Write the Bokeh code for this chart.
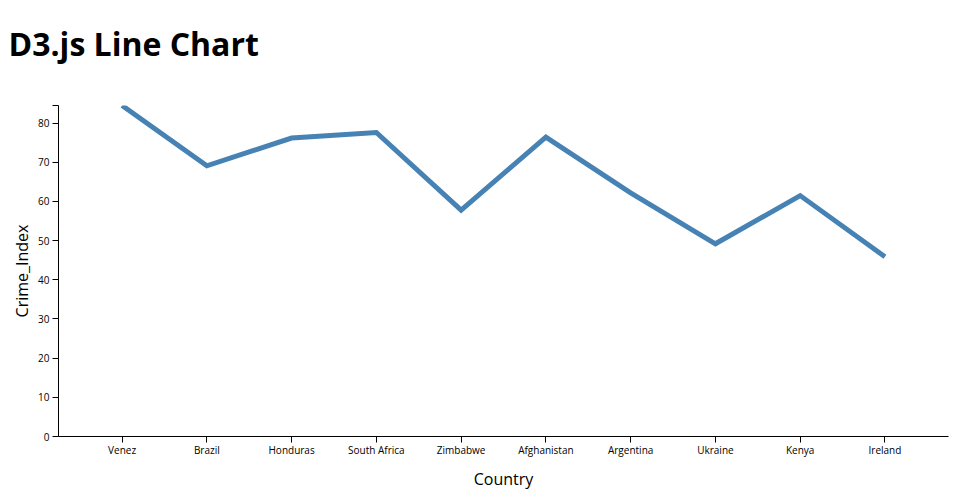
from bokeh.plotting import figure
from bokeh.models import FactorRange, Range1d, FixedTicker, Title
from bokeh.embed import file_html
from bokeh.resources import INLINE

countries = ["Venez", "Brazil", "Honduras", "South Africa", "Zimbabwe",
             "Afghanistan", "Argentina", "Ukraine", "Kenya", "Ireland"]
crime_index = [84.5, 69.1, 76.2, 77.6, 57.8, 76.4, 62.2, 49.2, 61.5, 45.9]
y_ticks = [0, 10, 20, 30, 40, 50, 60, 70, 80]
title_text = "D3.js Line Chart"

ymax = max(crime_index)

W, H = 952, 492
LEFT, RIGHT, TOP, BOTTOM = 58, 4, 105, 56

p = figure(width=W, height=H, output_backend="svg", toolbar_location=None,
           title=None,
           x_range=FactorRange(factors=countries, range_padding=0.25,
                               range_padding_units="absolute"),
           y_range=Range1d(0, ymax),
           min_border_left=LEFT, min_border_right=RIGHT, min_border_top=TOP,
           min_border_bottom=BOTTOM)

p.line(x=countries, y=crime_index, line_width=5, line_color="#4682b4",
       line_join="miter")

# spacer between the frame and the title (closest to the frame)
spacer = Title(text=" ", text_font_size="1px", standoff=33)
p.add_layout(spacer, "above")

main_title = Title(text=title_text, text_font="Open Sans", text_font_size="32px",
                   text_font_style="bold", text_color="black", align="left",
                   vertical_align="bottom", offset=-50, standoff=10)
p.add_layout(main_title, "above")

p.xgrid.visible = False
p.ygrid.visible = False
p.outline_line_color = None

p.yaxis.ticker = FixedTicker(ticks=y_ticks + [ymax])
p.yaxis.major_label_overrides = {ymax: ""}

for ax in (p.xaxis[0], p.yaxis[0]):
    ax.axis_line_color = "black"
    ax.axis_line_width = 1
    ax.major_tick_line_color = "black"
    ax.major_tick_out = 6
    ax.major_tick_in = 0
    ax.minor_tick_line_color = None
    ax.major_label_text_font = "Open Sans"
    ax.major_label_text_font_size = "10px"
    ax.major_label_text_color = "black"
    ax.axis_label_text_font = "Open Sans"
    ax.axis_label_text_font_size = "16px"
    ax.axis_label_text_font_style = "normal"
    ax.axis_label_text_color = "black"
    ax.major_label_standoff = 3

p.xaxis.major_label_standoff = 0
p.xaxis.axis_label = "Country"
p.yaxis.axis_label = "Crime_Index"
p.xaxis.axis_label_standoff = 8
p.yaxis.axis_label_standoff = 2

open("out.html", "w").write(file_html(p, INLINE))
